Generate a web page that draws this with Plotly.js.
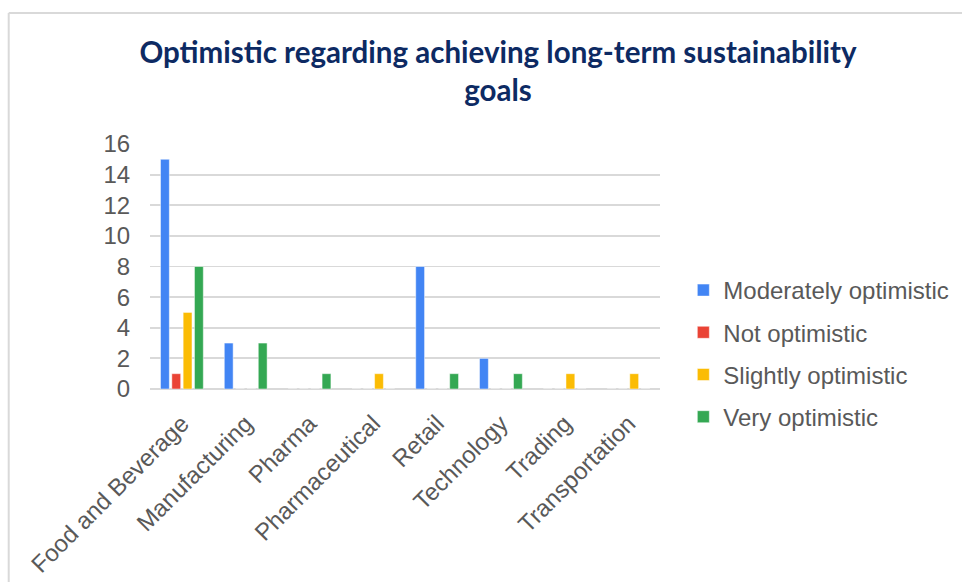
<!DOCTYPE html>
<html>
<head>
<meta charset="utf-8">
<script src="https://cdn.plot.ly/plotly-3.0.1.min.js"></script>
<style>html,body{margin:0;padding:0;background:#fff;}#chart{width:962px;height:582px;}</style>
</head>
<body>
<div id="chart"></div>
<script>
const categories = ["Food and Beverage","Manufacturing","Pharma","Pharmaceutical","Retail","Technology","Trading","Transportation"];
const seriesNames = ["Moderately optimistic","Not optimistic","Slightly optimistic","Very optimistic"];
const moderately = [15,3,0,0,8,2,0,0];
const notOpt     = [1,0,0,0,0,0,0,0];
const slightly   = [5,0,0,1,0,0,1,1];
const very       = [8,3,1,0,1,1,0,0];
const colors = ["#4285F4","#EA4335","#FBBC04","#34A853"];
const yTicks = [0,2,4,6,8,10,12,14,16];

const values = [moderately, notOpt, slightly, very];
const traces = values.map((v,i)=>({
  type:'bar', name:seriesNames[i], x:categories, y:v,
  marker:{color:colors[i], line:{color:'rgba(255,255,255,0.6)', width:0.8}},
  legendgroup:'g'+i, hoverinfo:'skip'
}));

const W=962, H=582;
const plotL=150, plotR=663, plotT=144, plotB=389;
const mR=8;
const paperW = W-plotL-mR;
const ph=plotB-plotT;
const px2x = p => (p-plotL)/paperW;
const py2y = p => (plotB-p)/ph;
const tickFont = {family:'Liberation Sans, Arial', size:24, color:'#595959'};

const layout = {
  width:W, height:H,
  margin:{l:plotL, r:mR, t:plotT, b:H-plotB, pad:0},
  paper_bgcolor:'#fff', plot_bgcolor:'#fff',
  barmode:'group', bargap:0.29, bargroupgap:0.22,
  title:{text:'Optimistic regarding achieving long-term sustainability<br>goals',
    font:{family:'Lato', size:29.5, color:'#0d2a63', weight:'bold'},
    x:498/W, xanchor:'center', xref:'container', y:1-63/H, yanchor:'top', yref:'container'},
  xaxis:{type:'category', domain:[0, px2x(plotR)], tickangle:-45, showgrid:false, zeroline:false, showline:false,
    tickfont:tickFont, ticks:'outside', ticklen:10, tickcolor:'rgba(0,0,0,0)'},
  yaxis:{range:[0,16], tickvals:yTicks, showgrid:true, gridcolor:'#d9d9d9', gridwidth:1.8,
    zeroline:true, zerolinecolor:'#d9d9d9', zerolinewidth:1.8, showline:false,
    tickfont:tickFont, ticks:'outside', ticklen:14, tickcolor:'rgba(0,0,0,0)'},
  legend:{x:px2x(686), xanchor:'left', y:py2y(268), yanchor:'top',
    font:tickFont, tracegroupgap:8, itemwidth:30, traceorder:'grouped'},
  showlegend:true,
  shapes:[{type:'line', xref:'paper', yref:'paper', x0:px2x(8), x1:px2x(8), y0:py2y(13), y1:py2y(600),
      line:{color:'#d9d9d9', width:2}},
    {type:'line', xref:'paper', yref:'paper', x0:px2x(8), x1:px2x(1000), y0:py2y(13), y1:py2y(13),
      line:{color:'#d9d9d9', width:2}}]
};
Plotly.newPlot('chart', traces, layout, {displayModeBar:false, staticPlot:true});
</script>
</body>
</html>
